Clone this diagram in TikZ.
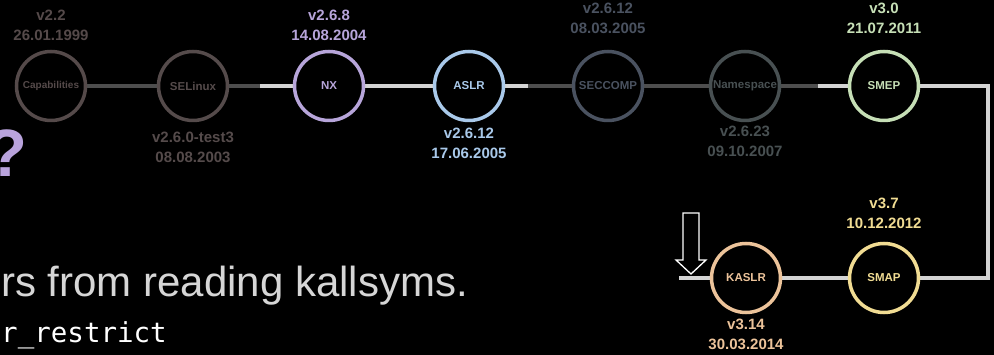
\documentclass[tikz,border=0pt]{standalone}
\usepackage{fontspec}
\setmainfont{Liberation Sans}
\setmonofont{DejaVu Sans Mono}
\usetikzlibrary{positioning}
\pgfdeclarelayer{links}
\pgfsetlayers{links,main}
\tikzset{
  feat/.style={circle,draw=#1,text=#1,fill=black,line width=3.5pt,minimum size=69pt,inner sep=0pt,
    font=\fontsize{11.5}{13}\selectfont\bfseries},
  stamp/.style={text=#1,align=center,inner sep=0pt,font=\fontsize{15}{19.5}\selectfont\bfseries},
  dimlink/.style={line width=4pt,draw=linkdark},
  litlink/.style={line width=4pt,draw=linklight},
}
\begin{document}
\begin{tikzpicture}[x=1pt,y=-1pt]
  \definecolor{capc}{HTML}{554A4A}
  \definecolor{selc}{HTML}{554B4B}
  \definecolor{nxc}{HTML}{B7A5DA}
  \definecolor{aslrc}{HTML}{A9C9EA}
  \definecolor{secc}{HTML}{4A5260}
  \definecolor{nsc}{HTML}{485052}
  \definecolor{smepc}{HTML}{C6DFB6}
  \definecolor{smapc}{HTML}{F1DC93}
  \definecolor{kaslrc}{HTML}{ECC39A}
  \definecolor{linkdark}{HTML}{4E4E4E}
  \definecolor{linklight}{HTML}{D4D4D4}
  \definecolor{qmark}{HTML}{B9A3DC}
  \definecolor{bodygray}{HTML}{D6D6D6}
  \useasboundingbox (0,0) rectangle (994,355);
  \node[feat=capc,font=\fontsize{10}{12}\selectfont\bfseries] (cap) at (51,86) {Capabilities};
  \node[feat=selc] (selinux) at (193,86) {SELinux};
  \node[feat=nxc] (nx) at (329,86) {NX};
  \node[feat=aslrc] (aslr) at (469,86) {ASLR};
  \node[feat=secc] (seccomp) at (608,86) {SECCOMP};
  \node[feat=nsc] (ns) at (745,86) {Namespace};
  \node[feat=smepc] (smep) at (884,86) {SMEP};
  \node[feat=smapc] (smap) at (884,278) {SMAP};
  \node[feat=kaslrc] (kaslr) at (746,278) {KASLR};
  \node[stamp=capc,above=9pt of cap] (capdate) {v2.2\\26.01.1999};
  \node[stamp=selc,below=10pt of selinux] (seldate) {v2.6.0-test3\\08.08.2003};
  \node[stamp=nxc,above=9pt of nx] (nxdate) {v2.6.8\\14.08.2004};
  \node[stamp=aslrc,below=6pt of aslr] (aslrdate) {v2.6.12\\17.06.2005};
  \node[stamp=secc,above=16pt of seccomp] (secdate) {v2.6.12\\08.03.2005};
  \node[stamp=nsc,below=4pt of ns] (nsdate) {v2.6.23\\09.10.2007};
  \node[stamp=smepc,above=16pt of smep] (smepdate) {v3.0\\21.07.2011};
  \node[stamp=smapc,above=13pt of smap] (smapdate) {v3.7\\10.12.2012};
  \node[stamp=kaslrc,below=5pt of kaslr] (kaslrdate) {v3.14\\30.03.2014};
  \coordinate (sel-nx) at (260,86);
  \coordinate (aslr-sec) at (528,86);
  \coordinate (ns-smep) at (818,86);
  \coordinate (turn) at (988,86);
  \coordinate (stub) at (679,278);
  \begin{pgfonlayer}{links}
    \fill[black] (0,0) rectangle (994,355);
    \draw[dimlink] (cap) -- (selinux);
    \draw[dimlink] (selinux) -- (sel-nx);
    \draw[litlink] (sel-nx) -- (nx);
    \draw[litlink] (nx) -- (aslr);
    \draw[litlink] (aslr) -- (aslr-sec);
    \draw[dimlink] (aslr-sec) -- (seccomp);
    \draw[dimlink] (seccomp) -- (ns);
    \draw[dimlink] (ns) -- (ns-smep);
    \draw[litlink] (ns-smep) -- (smep);
    \draw[litlink] (smep) -- (turn) |- (smap);
    \draw[litlink] (smap) -- (kaslr);
    \draw[litlink] (kaslr) -- (stub);
  \end{pgfonlayer}
  \draw[white,line width=1.3pt,line join=miter] (683,213) -- (699,213) -- (699,260) -- (706,260)
    -- (691,274) -- (676,260) -- (683,260) -- cycle;
  \node[anchor=base east,text=qmark,inner sep=0pt,font=\fontsize{67}{67}\selectfont\bfseries] (quest) at (28,177) {?};
  \node[anchor=base east,text=bodygray,inner sep=0pt,font=\fontsize{42}{42}\selectfont] (note) at (468,297) {rs from reading kallsyms.};
  \node[anchor=base east,text=white,inner sep=0pt,font=\fontsize{27.5}{28}\ttfamily] (knob) at (167,343) {r\_restrict};
\end{tikzpicture}
\end{document}
